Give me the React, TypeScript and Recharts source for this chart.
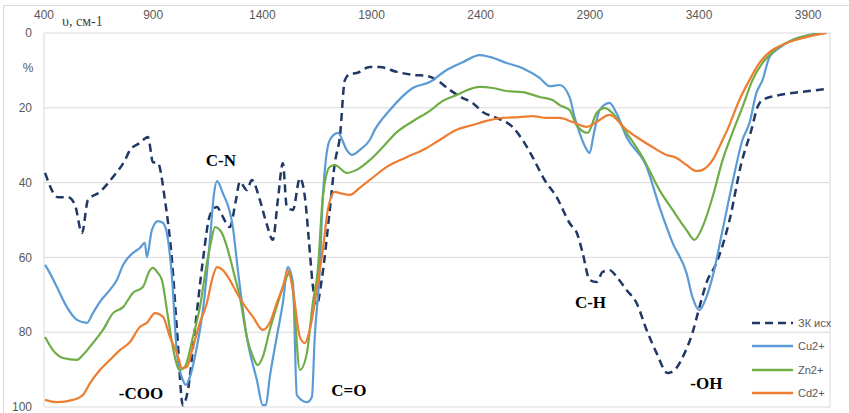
import React from 'react';
import { LineChart, Line, XAxis, YAxis, CartesianGrid, ReferenceDot, Customized } from 'recharts';

const xTicks = [400, 900, 1400, 1900, 2400, 2900, 3400, 3900];
const yTicks = [0, 20, 40, 60, 80, 100];

const zkSeries: number[][] = [
  [405,37.4],[464,43.9],[510,43.9],[542,46],[574,53.5],[601,44.7],[656,42.5],[716,38.5],[771,34],[794,31.3],
  [839,29.4],[876,27.8],[899,34.5],[922,34.8],[954,44.7],[986,60.7],[1009,79.4],[1036,99.5],[1059,95.5],[1091,79.4],
  [1128,60.7],[1160,48.7],[1192,46.5],[1215,48.7],[1251,51.9],[1279,44.7],[1297,39.8],[1329,42],[1352,39.3],[1389,44.7],
  [1421,51.3],[1448,55.3],[1471,44.7],[1494,34.8],[1512,46.5],[1540,47.3],[1572,38.8],[1595,43.9],[1613,55.3],[1631,67.4],
  [1649,72.7],[1672,66],[1709,47.3],[1732,34.8],[1755,27.8],[1778,12.6],[1800,11],[1832,10.7],[1892,9.1],[1938,9.1],
  [2016,10.4],[2089,11.2],[2153,11.5],[2199,12.6],[2258,15.2],[2318,17.4],[2363,18.7],[2409,21.1],[2473,22.7],[2546,25.1],
  [2592,28.6],[2638,33.2],[2693,39.3],[2748,43.9],[2807,50.8],[2844,54],[2867,58.8],[2899,66],[2931,66.6],[2958,63.9],
  [2990,63.4],[3027,65.5],[3068,68.7],[3114,72.2],[3160,79.4],[3206,85.6],[3256,90.9],[3288,90.1],[3334,85.6],[3370,80.2],
  [3402,73.3],[3434,66.8],[3480,61.5],[3540,50],[3594,34.8],[3640,25.9],[3668,19.8],[3691,17.9],[3768,16.6],[3860,15.8],
  [3983,15],
];

const cuSeries: number[][] = [
  [405,62],[427,64.2],[459,67.9],[505,73.3],[551,76.7],[597,77.5],[624,74.9],[656,71.9],[702,68.7],[734,66],
  [762,62],[807,58.8],[839,57.5],[862,56.1],[871,59.9],[894,52.7],[922,50.3],[945,50.8],[968,55.3],[986,65.2],
  [1009,85.6],[1036,92.8],[1050,94.1],[1068,92],[1100,84],[1132,72.2],[1160,55.3],[1178,43.3],[1192,39.6],[1219,42.8],
  [1265,51.9],[1288,63.4],[1329,81.3],[1375,92.8],[1402,99.5],[1416,99.5],[1434,92],[1466,81.3],[1494,72.2],[1517,62.6],
  [1540,66.8],[1558,96.8],[1604,98.7],[1627,97.3],[1640,81.3],[1663,63.4],[1677,43.9],[1709,28.6],[1746,26.7],[1787,31.3],
  [1810,32.6],[1846,31.3],[1892,28.6],[1915,25.9],[1984,20.6],[2089,14.7],[2167,13.1],[2244,9.9],[2318,7.8],[2395,5.9],
  [2441,6.4],[2519,8],[2592,9.4],[2670,12],[2716,14.2],[2762,13.9],[2807,17.1],[2830,22.5],[2853,26.7],[2881,30.7],
  [2899,32.1],[2917,27.3],[2945,20.6],[2990,18.7],[3022,21.4],[3068,27.8],[3160,35.8],[3219,46.5],[3279,56.1],[3343,64.2],
  [3370,70.6],[3402,74.1],[3434,70.6],[3462,65.2],[3508,52.7],[3553,40.1],[3599,28.6],[3631,24.1],[3663,16],[3691,12.6],
  [3723,6.4],[3768,4],[3828,1.9],[3906,0.5],[3983,0],
];

const znSeries: number[][] = [
  [405,81.3],[441,84.8],[487,86.9],[551,87.4],[578,86.1],[624,82.9],[670,79.4],[716,74.9],[762,73.3],[807,69.5],
  [853,67.9],[885,63.4],[899,62.8],[922,64.2],[940,66],[963,74.1],[990,84],[1022,90.1],[1045,89.3],[1082,81.3],
  [1114,73.3],[1146,61.5],[1164,56.1],[1183,51.9],[1215,53.5],[1251,59.9],[1274,65.2],[1297,70.6],[1329,81.3],[1357,86.6],
  [1379,88.8],[1402,86.6],[1434,79.4],[1471,72.2],[1512,65.2],[1526,63.9],[1540,68.7],[1572,90.1],[1604,85.6],[1631,72.2],
  [1654,63.4],[1677,43.9],[1709,35.8],[1732,35.3],[1787,37.4],[1832,36.6],[1892,34],[1952,30.5],[2016,26.5],[2089,23.6],
  [2167,20.8],[2226,18.2],[2290,16.6],[2350,15],[2395,14.4],[2455,14.7],[2519,15.5],[2592,15.8],[2670,17.1],[2729,17.9],
  [2762,19.3],[2807,20.6],[2839,24.6],[2890,26.7],[2931,21.4],[2968,20.1],[3004,21.4],[3068,26.7],[3141,33.2],[3219,42],
  [3279,47.3],[3343,52.7],[3379,55.3],[3416,51.9],[3462,43.9],[3508,34],[3553,26.7],[3599,19.8],[3645,12.6],[3691,8],
  [3737,5.1],[3828,1.9],[3938,0.3],[3983,0],
];

const cdSeries: number[][] = [
  [405,98.1],[459,98.7],[533,98.1],[578,96.8],[611,93.6],[656,90.1],[702,87.4],[748,84.8],[794,82.6],[839,78.6],
  [871,77.5],[908,74.9],[945,75.9],[977,81.3],[1009,85.6],[1032,89.6],[1054,89.3],[1082,84],[1114,77.5],[1146,72.2],
  [1173,65.2],[1192,62.6],[1219,63.4],[1251,66],[1283,69.5],[1311,72.2],[1357,75.9],[1402,79.4],[1434,77.5],[1466,72.2],
  [1494,67.9],[1517,63.4],[1540,68.7],[1572,81.3],[1595,82.9],[1617,79.4],[1649,68.7],[1663,63.4],[1677,58],[1700,47.3],
  [1732,42.5],[1755,42.8],[1800,43.3],[1846,41.4],[1892,39.3],[1970,35.8],[2061,33.2],[2135,31.3],[2212,28.6],[2290,25.9],
  [2363,24.6],[2427,23.5],[2500,22.7],[2578,22.5],[2638,22.2],[2702,22.7],[2762,22.7],[2821,23.8],[2885,25.1],[2931,23.8],
  [2990,21.9],[3068,25.9],[3114,27.8],[3187,30.5],[3251,32.6],[3297,33.4],[3343,35.3],[3389,36.9],[3416,36.6],[3462,34],
  [3508,28.6],[3530,25.9],[3585,17.9],[3631,12.6],[3677,8],[3723,5.1],[3801,2.7],[3892,1.1],[3983,0],
];

const seriesNames = ['ЗК исх', 'Cu2+', 'Zn2+', 'Cd2+'];
const seriesColors = ['#203864', '#5B9BD5', '#70AD47', '#ED7D31'];

const annotations = [
  { label: 'C-N', v: 1210, y: 34 },
  { label: '-COO', v: 844, y: 96.3 },
  { label: 'C=O', v: 1796, y: 95.5 },
  { label: 'C-H', v: 2903, y: 71.9 },
  { label: '-OH', v: 3434, y: 93.6 },
];

const toData = (s: number[][]) => s.map(([v, y]) => ({ v, y }));

const LegendBox = () => (
  <div style={{ position: 'absolute', left: 751, top: 311, fontFamily: 'Liberation Sans, Arial, sans-serif', fontSize: 11, color: '#595959' }}>
    {seriesNames.map((n, i) => (
      <div key={n} style={{ display: 'flex', alignItems: 'center', height: 23.5 }}>
        <svg width={44} height={6} style={{ marginRight: 3 }}>
          <line x1={1} y1={3} x2={42} y2={3} stroke={seriesColors[i]} strokeWidth={2.5}
            strokeDasharray={i === 0 ? '8 5' : undefined} />
        </svg>
        <span>{n}</span>
      </div>
    ))}
  </div>
);

const AxisTitles = () => (
  <g>
    <text x={62} y={26} fontFamily="Liberation Serif, Times New Roman, serif" fontSize={14} fill="#404040">υ, см-1</text>
    <text x={28} y={72} textAnchor="middle" fontFamily="Liberation Sans, Arial, sans-serif" fontSize={12} fill="#595959">%</text>
  </g>
);

export default function App() {
  const tickStyle = { fill: '#595959', fontSize: 12, fontFamily: 'Liberation Sans, Arial, sans-serif' };
  return (
    <div style={{ position: 'absolute', left: 0, top: 0, width: 849, height: 413, background: '#fff' }}>
      <div style={{ position: 'absolute', left: 3, top: 5, width: 846, height: 408, borderLeft: '1px solid #d9d9d9', borderTop: '1px solid #d9d9d9' }} />
      <LineChart width={849} height={413} margin={{ top: 0, right: 19, bottom: 6, left: 0 }}>
        <CartesianGrid stroke="#d9d9d9" strokeWidth={1} />
        <XAxis type="number" dataKey="v" orientation="top" domain={[400, 4000]} ticks={xTicks} interval={0}
          height={33} tickLine={false} axisLine={false} tick={false} allowDataOverflow />
        <YAxis type="number" domain={[0, 100]} ticks={yTicks} reversed width={44} interval={0}
          tickLine={false} axisLine={false} tickSize={0} tickMargin={12} tick={tickStyle} allowDataOverflow />
        {xTicks.map((t) => (
          <ReferenceDot key={'xt' + t} x={t} y={0} r={0} fill="none" stroke="none" ifOverflow="visible"
            label={{ value: String(t), position: 'top', offset: 14, fill: '#595959', fontSize: 12,
              fontFamily: 'Liberation Sans, Arial, sans-serif' }} />
        ))}
        <Line data={toData(zkSeries)} dataKey="y" name={seriesNames[0]} type="monotone" stroke={seriesColors[0]}
          strokeWidth={2.5} strokeDasharray="8 5" dot={false} isAnimationActive={false} />
        <Line data={toData(cuSeries)} dataKey="y" name={seriesNames[1]} type="monotone" stroke={seriesColors[1]}
          strokeWidth={2.2} dot={false} isAnimationActive={false} />
        <Line data={toData(znSeries)} dataKey="y" name={seriesNames[2]} type="monotone" stroke={seriesColors[2]}
          strokeWidth={2.2} dot={false} isAnimationActive={false} />
        <Line data={toData(cdSeries)} dataKey="y" name={seriesNames[3]} type="monotone" stroke={seriesColors[3]}
          strokeWidth={2.2} dot={false} isAnimationActive={false} />
        {annotations.map((a) => (
          <ReferenceDot key={a.label} x={a.v} y={a.y} r={0} fill="none" stroke="none" ifOverflow="visible"
            label={{ value: a.label, position: 'center', fontFamily: 'Liberation Serif, Times New Roman, serif',
              fontWeight: 'bold', fontSize: 17, fill: '#000' }} />
        ))}
        <Customized component={AxisTitles} />
      </LineChart>
      <LegendBox />
    </div>
  );
}
